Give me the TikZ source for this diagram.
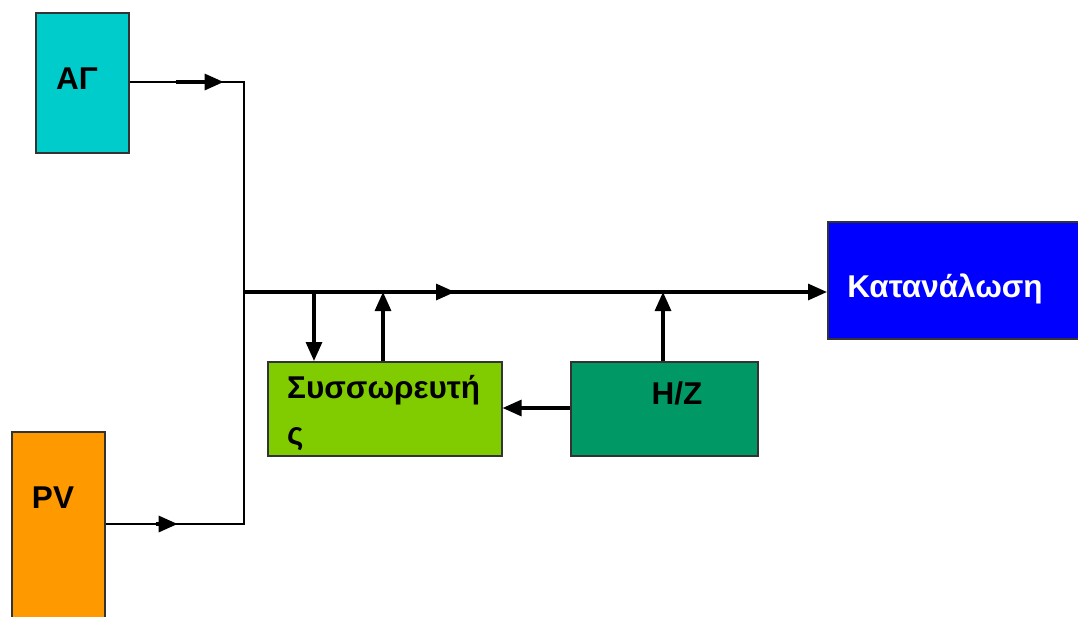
\documentclass[tikz,border=0pt]{standalone}
\usepackage{fontspec}
\setmainfont{Liberation Sans}
\usetikzlibrary{arrows.meta,decorations.markings}
\definecolor{agcyan}{HTML}{00CCCC}
\definecolor{pvorange}{HTML}{FF9900}
\definecolor{battgreen}{HTML}{80CC00}
\definecolor{genteal}{HTML}{009966}
\definecolor{loadblue}{HTML}{0000FF}
\tikzset{
  box/.style={draw=black!80, line width=1.6pt, anchor=north west, inner sep=0pt},
  lbl/.style={font=\fontsize{31.5}{46}\selectfont\bfseries, inner sep=0pt},
  wire/.style={line width=2pt},
  tip/.style={-{Triangle[length=19pt,width=16pt]}},
  flow/.style={line width=3.2pt, tip},
  midarrow/.style 2 args={postaction={decorate, decoration={markings,
    mark=at position #1 with {\draw[line width=3.2pt, tip] (-#2,0) -- (0,0);}}}}
}
\begin{document}
\begin{tikzpicture}[x=1pt, y=-1pt]
    \useasboundingbox (0,0) rectangle (1078,616);

    % Sources
    \node[box, fill=agcyan, minimum width=93pt, minimum height=140pt] (ag) at (35,12) {};
    \node[lbl] (agtext) at (77,79) {ΑΓ};
    \node[box, fill=pvorange, minimum width=93pt, minimum height=190pt] (pv) at (11,431) {};
    \node[lbl] (pvtext) at (53,498) {PV};

    % Storage, generator, load
    \node[box, fill=battgreen, minimum width=234pt, minimum height=94pt] (batt) at (267,361) {};
    \node[lbl, anchor=north west, align=left] (batttext) at (287,375) {Συσσωρευτή\\ς};
    \node[box, fill=genteal, minimum width=187pt, minimum height=94pt] (gen) at (570,361) {};
    \node[lbl] (gentext) at (677,393) {Η/Ζ};
    \node[box, fill=loadblue, minimum width=260pt, minimum height=117pt] (load) at (827,221) {};
    \node[lbl, white] (loadtext) at (945,289) {Κατανάλωση};

    % Bus junctions
    \coordinate (bus) at (244,292);
    \coordinate (tobatt) at (314,292);
    \coordinate (frombatt) at (383,292);
    \coordinate (fromgen) at (663,292);

    % Wiring
    \draw[wire, midarrow={94pt}{48pt}] (ag.east |- 0,82) -- (bus |- 0,82) -- (bus);
    \draw[wire, midarrow={72pt}{22pt}] (pv.east |- 0,524) -- (bus |- 0,524) -- (bus);
    \draw[flow, midarrow={211pt}{20pt}] (bus) -- (load.west |- bus);
    \draw[flow] (tobatt) -- (tobatt |- batt.north);
    \draw[flow] (frombatt |- batt.north) -- (frombatt);
    \draw[flow] (fromgen |- gen.north) -- (fromgen);
    \draw[flow] (gen.west |- 0,408) -- (batt.east |- 0,408);

\end{tikzpicture}
\end{document}
